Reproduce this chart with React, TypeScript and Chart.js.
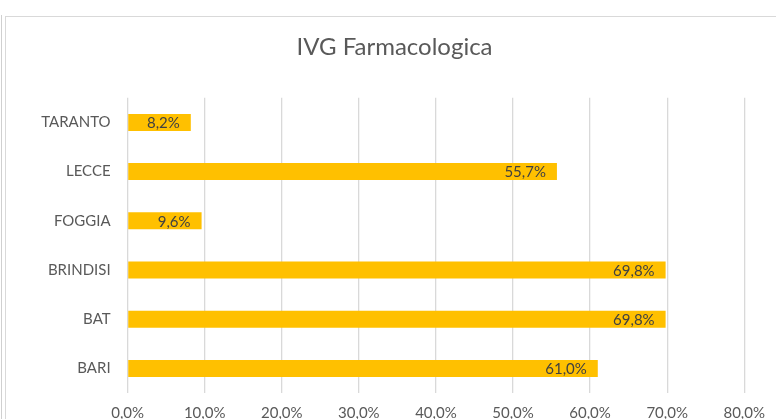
import React, { useEffect, useRef } from "react";
import { Chart, registerables } from "chart.js";

Chart.register(...registerables);

const categories = ["TARANTO", "LECCE", "FOGGIA", "BRINDISI", "BAT", "BARI"];
const values = [8.2, 55.7, 9.6, 69.8, 69.8, 61.0];
const axisMin = 0;
const axisMax = 80;
const axisStep = 10;
const chartTitle = "IVG Farmacologica";

const FONT = "Lato, 'Open Sans', sans-serif";

const fmt = (v: number) => v.toFixed(1).replace(".", ",") + "%";

const valueLabelPlugin = {
  id: "valueLabels",
  afterLayout(chart: any) {
    // the original chart is wider than the visible crop; centre the title on it
    const t = chart.titleBlock;
    if (t) {
      t.left = 0;
      t.right = 789;
      t.width = 789;
    }
  },
  afterDatasetsDraw(chart: any) {
    const ctx = chart.ctx;
    const meta = chart.getDatasetMeta(0);
    ctx.save();
    ctx.font = `15px ${FONT}`;
    ctx.fillStyle = "#404040";
    ctx.textAlign = "right";
    ctx.textBaseline = "middle";
    meta.data.forEach((bar: any, i: number) => {
      ctx.fillText(fmt(values[i]), bar.x - 11, bar.y + 1);
    });
    ctx.restore();
  },
};

export default function App() {
  const ref = useRef<HTMLCanvasElement | null>(null);
  useEffect(() => {
    document.body.style.margin = "0";
    const chart = new Chart(ref.current!, {
      type: "bar",
      data: {
        labels: categories,
        datasets: [
          {
            data: values,
            backgroundColor: "#FFC000",
            borderWidth: 0,
            barPercentage: 0.345,
            categoryPercentage: 1,
          },
        ],
      },
      options: {
        indexAxis: "y",
        responsive: false,
        animation: false,
        layout: { padding: { left: 0, right: 27.5, top: 0, bottom: 0 } },
        plugins: {
          legend: { display: false },
          tooltip: { enabled: false },
          title: {
            display: true,
            text: chartTitle,
            color: "#595959",
            font: { family: FONT, size: 24, weight: "normal" },
            padding: { top: 33, bottom: 36 },
          },
        },
        scales: {
          x: {
            min: axisMin,
            max: axisMax,
            ticks: {
              stepSize: axisStep,
              color: "#595959",
              font: { family: FONT, size: 15 },
              padding: 11,
              callback: (v: any) => fmt(Number(v)),
            },
            grid: { color: "#d9d9d9", lineWidth: 1.3, drawTicks: false },
            border: { display: false },
            afterFit: (s: any) => {
              s.height = 47;
            },
          },
          y: {
            ticks: {
              color: "#595959",
              font: { family: FONT, size: 15 },
              padding: 17,
            },
            grid: { display: false, drawTicks: false },
            border: { display: false },
            afterFit: (s: any) => {
              s.width = 127.6;
            },
          },
        },
      },
      plugins: [valueLabelPlugin],
    });
    return () => chart.destroy();
  }, []);
  return (
    <div style={{ position: "fixed", left: 0, top: 0, width: 776, height: 440, background: "#fff" }}>
      <div style={{ position: "absolute", left: 1, top: 15, width: 1, height: 430, background: "#d0d0d0" }} />
      <div
        style={{
          position: "absolute",
          left: 5,
          top: 16,
          width: 800,
          height: 430,
          border: "1px solid #d9d9d9",
          borderRight: "none",
          borderBottom: "none",
        }}
      />
      <canvas ref={ref} width={776} height={440} style={{ position: "absolute", left: 0, top: 0 }} />
    </div>
  );
}
